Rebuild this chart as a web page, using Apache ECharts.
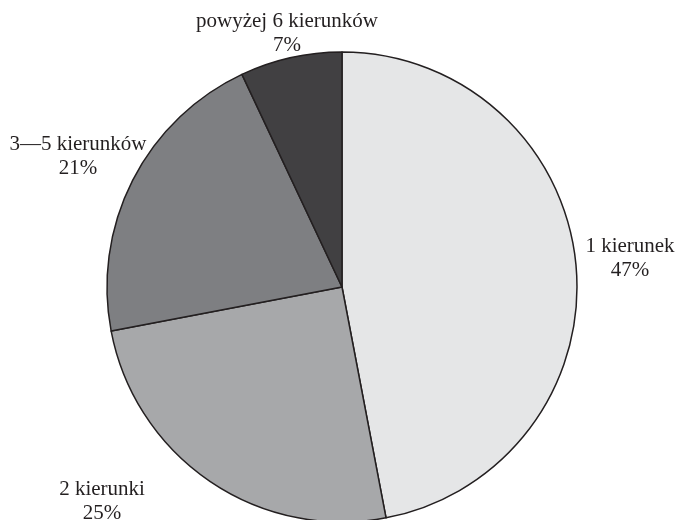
<!DOCTYPE html>
<html>
<head>
<meta charset="utf-8">
<script src="https://cdn.jsdelivr.net/npm/echarts@6/dist/echarts.min.js"></script>
<style>
  html, body { margin: 0; padding: 0; background: #fff; }
  #chart { width: 675px; height: 520px; }
</style>
</head>
<body>
<div id="chart"></div>
<script>
// Data
const categories = ['1 kierunek', '2 kierunki', '3\u20145 kierunków', 'powyżej 6 kierunków'];
const shares = [47, 25, 21, 7];
const sliceColors = ['#e5e6e7', '#a7a8aa', '#7e7f82', '#414042'];

// label anchor points (centre of each text block)
const labelPos = [[630, 258], [102, 501], [78, 156], [287, 33]];

const chart = echarts.init(document.getElementById('chart'));
chart.setOption({
    animation: false,
    series: [{
        type: 'pie',
        center: [342, 287],
        radius: [0, 235],
        startAngle: 90,
        clockwise: true,
        data: categories.map((name, i) => ({
            name: name,
            value: shares[i],
            itemStyle: { color: sliceColors[i] }
        })),
        itemStyle: { borderColor: '#231f20', borderWidth: 1.5 },
        label: {
            show: true,
            position: 'outside',
            alignTo: 'none',
            overflow: 'none',
            formatter: '{b}\n{c}%',
            fontFamily: 'Liberation Serif',
            fontSize: 21,
            lineHeight: 24,
            color: '#231f20',
            align: 'center'
        },
        labelLine: { show: false },
        labelLayout: function (params) {
            const p = labelPos[params.dataIndex];
            return { x: p[0], y: p[1], align: 'center', verticalAlign: 'middle' };
        },
        emphasis: { disabled: true }
    }]
});
</script>
</body>
</html>
